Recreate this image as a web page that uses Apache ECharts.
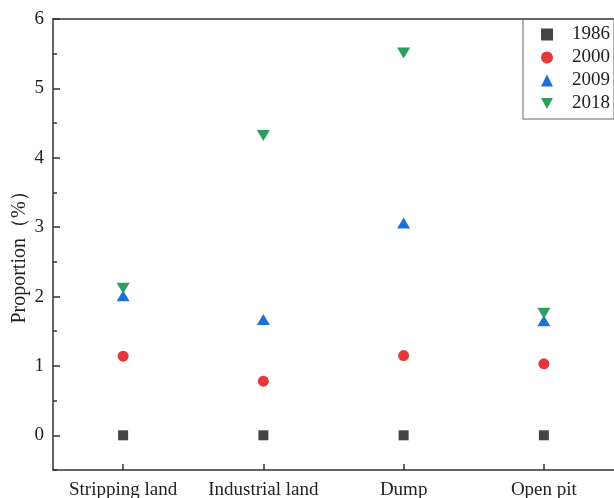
<!DOCTYPE html>
<html><head><meta charset="utf-8">
<script src="https://cdn.jsdelivr.net/npm/echarts@6/dist/echarts.min.js"></script>
<style>html,body{margin:0;padding:0;background:#fff}#c{width:614px;height:498px}</style>
</head><body><div id="c"></div>
<script>
const categories = ['Stripping land', 'Industrial land', 'Dump', 'Open pit'];
const years = ['1986', '2000', '2009', '2018'];
const v1986 = [0, 0, 0, 0];
const v2000 = [1.14, 0.78, 1.15, 1.03];
const v2009 = [2.01, 1.67, 3.06, 1.65];
const v2018 = [2.12, 4.32, 5.51, 1.76];
const majorTicks = [0, 1, 2, 3, 4, 5, 6];
const minorTicks = [-0.5, 0.5, 1.5, 2.5, 3.5, 4.5, 5.5];

const font = 'Liberation Serif';
const axisColor = '#333';
const chart = echarts.init(document.getElementById('c'));
const invTri = 'path://M0,0 L10,0 L5,9 Z';
chart.setOption({
  animation: false,
  textStyle: {fontFamily: font},
  grid: {left: 53, right: 0, top: 19, bottom: 28, outerBoundsMode: 'none', containLabel: false},
  legend: {
    orient: 'vertical', right: 0, top: 19,
    borderColor: '#666', borderWidth: 1, padding: [6, 4, 6, 18],
    itemWidth: 12, itemHeight: 12, itemGap: 4,
    textStyle: {fontFamily: font, fontSize: 19, lineHeight: 19, color: '#222', padding: [0, 0, 0, 14]},
    data: [
      {name: '1986', icon: 'rect'},
      {name: '2000', icon: 'circle'},
      {name: '2009', icon: 'triangle'},
      {name: '2018', icon: invTri}
    ]
  },
  xAxis: [{
    type: 'category', data: categories, boundaryGap: true,
    axisLine: {onZero: false, lineStyle: {color: axisColor, width: 1.5}},
    axisTick: {show: true, alignWithLabel: true, inside: true, length: 6, lineStyle: {color: axisColor, width: 1.5}},
    axisLabel: {fontFamily: font, fontSize: 19, color: '#222', margin: 11, interval: 0},
    splitLine: {show: false}
  }, {
    type: 'category', data: categories, position: 'top',
    axisLine: {onZero: false, lineStyle: {color: axisColor, width: 1.5}},
    axisTick: {show: false}, axisLabel: {show: false}, splitLine: {show: false}
  }],
  yAxis: [{
    type: 'value', min: -0.5, max: 6,
    name: 'Proportion（%）', nameLocation: 'middle', nameGap: 23, nameMoveOverlap: false,
    nameTextStyle: {fontFamily: font, fontSize: 20, color: '#222', padding: [0, 16, 0, 0]},
    axisLine: {show: true, onZero: false, lineStyle: {color: axisColor, width: 1.5}},
    axisTick: {show: true, inside: true, length: 7, customValues: majorTicks, lineStyle: {color: axisColor, width: 1.5}},
    axisLabel: {fontFamily: font, fontSize: 19, color: '#222', margin: 9, customValues: majorTicks},
    splitLine: {show: false}
  }, {
    type: 'value', min: -0.5, max: 6, position: 'left',
    axisLine: {show: false},
    axisTick: {show: true, inside: true, length: 4, customValues: minorTicks, lineStyle: {color: axisColor, width: 1.5}},
    axisLabel: {show: false}, splitLine: {show: false}
  }],
  series: [
    {name: years[0], type: 'scatter', data: v1986, symbol: 'rect', symbolSize: 10, itemStyle: {color: '#444', opacity: 1}},
    {name: years[1], type: 'scatter', data: v2000, symbol: 'circle', symbolSize: 11, itemStyle: {color: '#e8363b', opacity: 1}},
    {name: years[2], type: 'scatter', data: v2009, symbol: 'triangle', symbolSize: [13, 11], itemStyle: {color: '#1f6fd8', opacity: 1}},
    {name: years[3], type: 'scatter', data: v2018, symbol: invTri, symbolSize: [13, 11], itemStyle: {color: '#2e9e5e', opacity: 1}}
  ]
});
</script></body></html>
